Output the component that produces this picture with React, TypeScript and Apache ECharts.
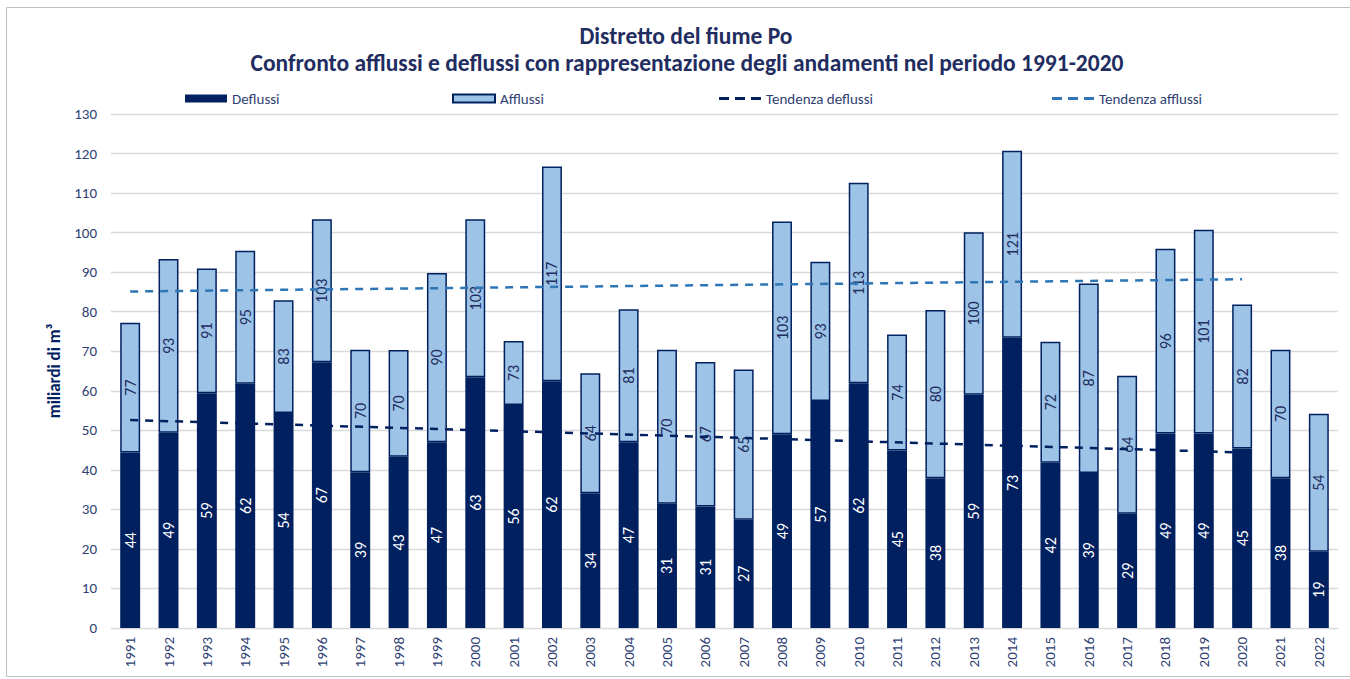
import React, { useEffect, useRef } from "react";
import * as echarts from "echarts";

const years = [
  "1991","1992","1993","1994","1995","1996","1997","1998","1999","2000",
  "2001","2002","2003","2004","2005","2006","2007","2008","2009","2010",
  "2011","2012","2013","2014","2015","2016","2017","2018","2019","2020",
  "2021","2022",
];

const deflussi = [
  44.4, 49.4, 59.4, 61.8, 54.4, 67.2, 39.4, 43.3, 47.0, 63.4,
  56.4, 62.4, 34.1, 47.0, 31.4, 30.7, 27.4, 49.0, 57.4, 61.9,
  44.9, 37.9, 59.0, 73.4, 41.8, 39.2, 28.9, 49.2, 49.2, 45.4,
  37.9, 19.3,
];

const afflussi = [
  77.2, 93.3, 90.9, 95.4, 82.9, 103.4, 70.4, 70.3, 89.8, 103.4,
  72.6, 116.7, 64.4, 80.6, 70.4, 67.3, 65.4, 102.8, 92.6, 112.6,
  74.2, 80.4, 100.1, 120.7, 72.4, 87.1, 63.8, 95.9, 100.7, 81.8,
  70.4, 54.2,
];

// trend lines (1991-2020): start and end values
const trendDeflussi = [52.6, 44.4];
const trendAfflussi = [85.1, 88.2];
const trendStartIdx = 0;
const trendEndIdx = 29;

const yTicks = [0, 130, 10];

const titleLines = [
  "Distretto del fiume Po",
  "Confronto afflussi e deflussi con rappresentazione degli andamenti nel periodo 1991-2020",
];

const FONT = "Carlito, 'Liberation Sans Narrow', 'Liberation Sans', sans-serif";
const NAVY = "#002060";
const LIGHT = "#9DC3E6";
const AXISTXT = "#2F3F73";
const DASH_ICON = "path://M0,0h10v3h-10z M16,0h10v3h-10z M32,0h10v3h-10z";

function trendSeries(ends: number[]) {
  return years.map((_, i) =>
    i === trendStartIdx ? ends[0] : i === trendEndIdx ? ends[1] : null
  );
}

export default function App() {
  const ref = useRef<HTMLDivElement>(null);
  useEffect(() => {
    if (!ref.current) return;
    const chart = echarts.init(ref.current, undefined, { renderer: "svg" });
    const diff = afflussi.map((a, i) => +(a - deflussi[i]).toFixed(2));
    const legendBase = {
      top: 86,
      itemWidth: 42,
      itemHeight: 8,
      textStyle: { fontFamily: FONT, fontSize: 15, color: AXISTXT },
      selectedMode: false,
    };
    const titleStyle = {
      fontFamily: FONT,
      fontSize: 23.5,
      fontWeight: "bold",
      fill: "#1F2D60",
      textAlign: "center",
      textVerticalAlign: "middle",
    };
    chart.setOption({
      animation: false,
      backgroundColor: "#fff",
      textStyle: { fontFamily: FONT },
      legend: [
        { ...legendBase, left: 180, data: [{ name: "Deflussi", icon: "rect" }] },
        { ...legendBase, left: 447, data: [{ name: "Afflussi", icon: "rect" }] },
        {
          ...legendBase,
          left: 714,
          itemHeight: 3,
          data: [{ name: "Tendenza deflussi", icon: DASH_ICON, itemStyle: { color: NAVY } }],
        },
        {
          ...legendBase,
          left: 1047,
          itemHeight: 3,
          data: [{ name: "Tendenza afflussi", icon: DASH_ICON, itemStyle: { color: "#2E75B6" } }],
        },
      ],
      graphic: [
        {
          type: "rect",
          shape: { x: 6.5, y: 7.5, width: 1350, height: 669 },
          style: { fill: "none", stroke: "#BFBFBF", lineWidth: 1 },
          silent: true,
        },
        { type: "text", x: 686, y: 36, style: { ...titleStyle, text: titleLines[0] } },
        { type: "text", x: 687, y: 63, style: { ...titleStyle, text: titleLines[1] } },
      ],
      grid: { left: 111, right: 12, top: 114, bottom: 51, containLabel: false },
      xAxis: {
        type: "category",
        data: years,
        axisLine: { lineStyle: { color: "#D9D9D9", width: 1 } },
        axisTick: { show: false },
        axisLabel: {
          rotate: 90,
          color: AXISTXT,
          fontFamily: FONT,
          fontSize: 15,
          margin: 9,
          interval: 0,
        },
      },
      yAxis: {
        type: "value",
        min: yTicks[0],
        max: yTicks[1],
        interval: yTicks[2],
        name: "miliardi di m³",
        nameLocation: "middle",
        nameGap: 46,
        nameTextStyle: {
          fontFamily: FONT,
          fontSize: 17,
          fontWeight: "bold",
          color: NAVY,
        },
        axisLine: { show: false },
        axisTick: { show: false },
        splitLine: { lineStyle: { color: "#D9D9D9", width: 1.3 } },
        axisLabel: {
          color: AXISTXT,
          fontFamily: FONT,
          fontSize: 15,
          margin: 14,
        },
      },
      series: [
        {
          name: "Deflussi",
          type: "bar",
          stack: "tot",
          barWidth: "52%",
          data: deflussi,
          itemStyle: { color: NAVY },
          label: {
            show: true,
            position: "inside",
            rotate: 90,
            color: "#fff",
            fontFamily: FONT,
            fontSize: 16,
            formatter: (p: any) => String(Math.round(deflussi[p.dataIndex])),
          },
          z: 2,
        },
        {
          name: "Afflussi",
          type: "bar",
          stack: "tot",
          data: diff,
          itemStyle: { color: LIGHT, borderColor: NAVY, borderWidth: 1.5 },
          label: {
            show: true,
            position: "inside",
            rotate: 90,
            color: "#1F2D60",
            fontFamily: FONT,
            fontSize: 16,
            formatter: (p: any) => String(Math.round(afflussi[p.dataIndex])),
          },
          z: 2,
        },
        {
          name: "Tendenza deflussi",
          type: "line",
          data: trendSeries(trendDeflussi),
          connectNulls: true,
          symbol: "none",
          lineStyle: { color: NAVY, width: 2.5, type: [8, 7] },
          itemStyle: { color: NAVY },
          z: 5,
        },
        {
          name: "Tendenza afflussi",
          type: "line",
          data: trendSeries(trendAfflussi),
          connectNulls: true,
          symbol: "none",
          lineStyle: { color: "#2E75B6", width: 2.5, type: [8, 7] },
          itemStyle: { color: "#2E75B6" },
          z: 5,
        },
      ],
    });
    return () => chart.dispose();
  }, []);
  return (
    <div
      ref={ref}
      style={{ position: "fixed", left: 0, top: 0, width: 1350, height: 679 }}
    />
  );
}
